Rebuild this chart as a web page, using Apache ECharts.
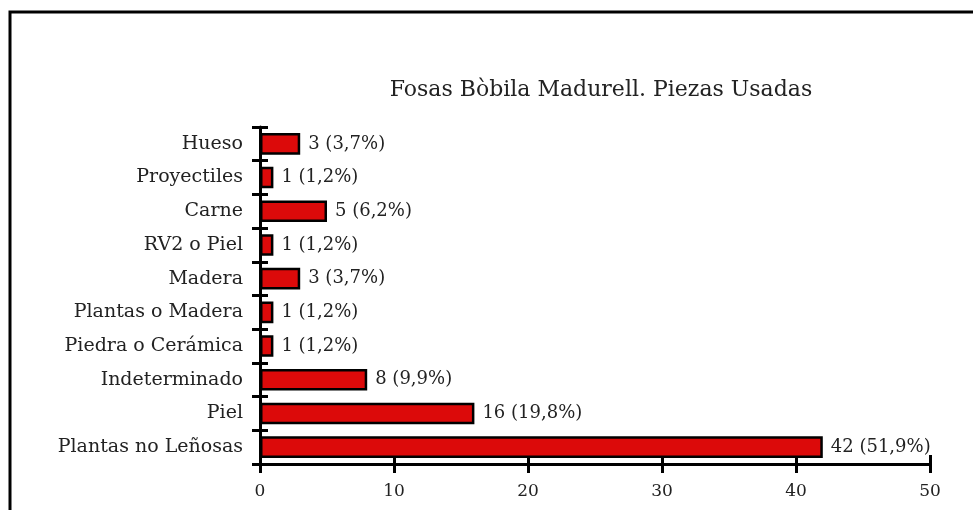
<!DOCTYPE html>
<html>
<head>
<meta charset="utf-8">
<script src="https://cdn.jsdelivr.net/npm/echarts@6/dist/echarts.min.js"></script>
<style>
  html, body { margin: 0; padding: 0; background: #fff; }
  #chart { width: 973px; height: 510px; }
</style>
</head>
<body>
<div id="chart"></div>
<script>
// datos (de arriba a abajo)
const categories = ['Hueso', 'Proyectiles', 'Carne', 'RV2 o Piel', 'Madera',
  'Plantas o Madera', 'Piedra o Cerámica', 'Indeterminado', 'Piel', 'Plantas no Leñosas'];
const values = [3, 1, 5, 1, 3, 1, 1, 8, 16, 42];
const percents = ['3,7', '1,2', '6,2', '1,2', '3,7', '1,2', '1,2', '9,9', '19,8', '51,9'];
const xTicks = [0, 10, 20, 30, 40, 50];

const font = 'DejaVu Serif';
const chart = echarts.init(document.getElementById('chart'));

const xBase = {
  type: 'value',
  min: xTicks[0],
  max: xTicks[xTicks.length - 1],
  interval: 10,
  position: 'bottom',
  splitLine: { show: false }
};
const yBase = {
  type: 'category',
  data: categories,
  inverse: true,
  position: 'left',
  splitLine: { show: false }
};

const option = {
  animation: false,
  textStyle: { fontFamily: font },
  title: {
    text: 'Fosas Bòbila Madurell. Piezas Usadas',
    left: 596,
    top: 74,
    textAlign: 'center',
    textStyle: { fontFamily: font, fontSize: 22, fontWeight: 'normal', color: '#222' }
  },
  graphic: [{
    type: 'rect',
    shape: { x: 10, y: 12, width: 1000, height: 600 },
    style: { fill: 'none', stroke: '#000', lineWidth: 3 }
  }],
  grid: { left: 260, right: 43, top: 127, bottom: 46 },
  xAxis: [
    Object.assign({}, xBase, {
      axisLine: { show: true, lineStyle: { color: '#000', width: 3 } },
      axisTick: { show: true, length: 9, lineStyle: { color: '#000', width: 3 } },
      axisLabel: { margin: 19, fontFamily: font, fontSize: 17, color: '#222' }
    }),
    Object.assign({}, xBase, {
      axisLine: { show: false },
      axisTick: { show: true, inside: true, length: 9, lineStyle: { color: '#000', width: 3 } },
      axisLabel: { show: false }
    })
  ],
  yAxis: [
    Object.assign({}, yBase, {
      axisLine: { show: true, lineStyle: { color: '#000', width: 3 } },
      axisTick: { show: true, length: 8, lineStyle: { color: '#000', width: 3 } },
      axisLabel: { margin: 17, fontFamily: font, fontSize: 19, color: '#222' }
    }),
    Object.assign({}, yBase, {
      axisLine: { show: false },
      axisTick: { show: true, inside: true, length: 8, lineStyle: { color: '#000', width: 3 } },
      axisLabel: { show: false }
    })
  ],
  series: [{
    type: 'bar',
    xAxisIndex: 0,
    yAxisIndex: 0,
    data: values,
    barCategoryGap: '36%',
    itemStyle: { color: '#dc0a0a', borderColor: '#000', borderWidth: 2.5 },
    label: {
      show: true,
      position: 'right',
      distance: 8,
      fontFamily: font,
      fontSize: 18,
      color: '#222',
      formatter: p => p.value + ' (' + percents[p.dataIndex] + '%)'
    }
  }]
};

chart.setOption(option);
</script>
</body>
</html>
